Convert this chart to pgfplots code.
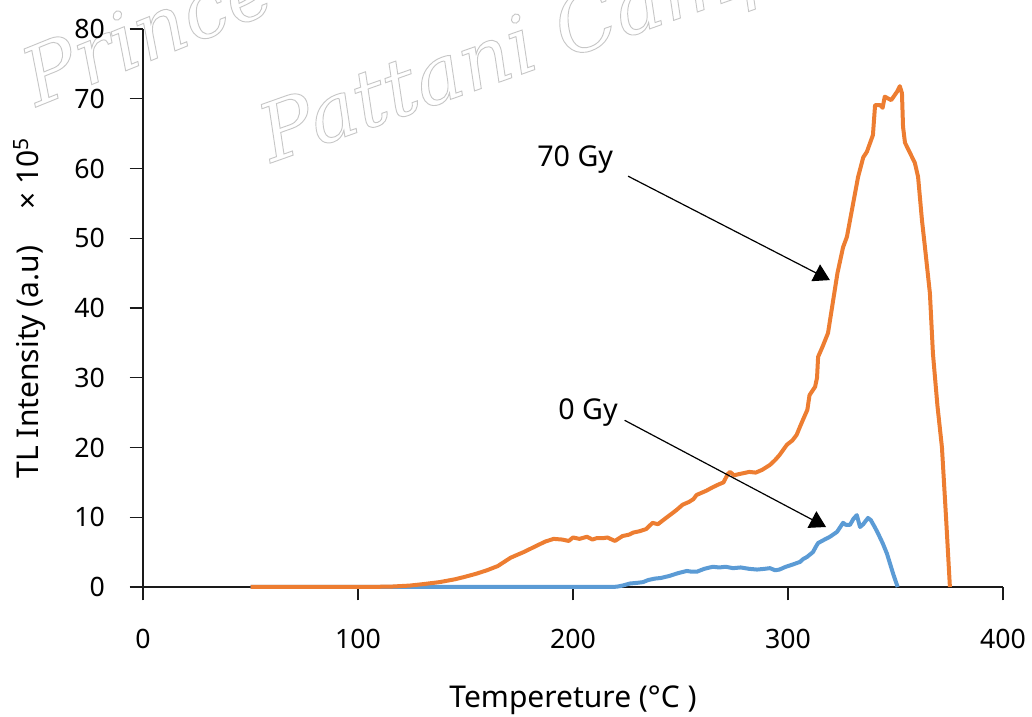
\documentclass[border=0pt]{standalone}
\usepackage{pgfplots}
\pgfplotsset{compat=1.18}
\usepackage{fontspec}
\setsansfont{Noto Sans}
\renewcommand{\familydefault}{\sfdefault}
\newfontfamily\wmfont{DejaVu Serif}
\usetikzlibrary{arrows.meta}

\definecolor{gyA}{HTML}{5B9BD5}
\definecolor{gyB}{HTML}{ED7D31}
\definecolor{axisgray}{HTML}{1A1A1A}

% outlined (stroke-only) text for the watermark
\newcommand{\outlinetext}[1]{\special{pdf:literal direct 1 Tr 0.7 w}#1\special{pdf:literal direct 0 Tr}}

\pgfplotstableread{
T I
50 0
80 0
100 0
150 0
200 0
218 0
220.5 0.05
223 0.2
226.5 0.5
230 0.6
232.6 0.7
235 1.0
238 1.2
241 1.3
245 1.6
249 2.0
253 2.3
255 2.2
257.7 2.2
261 2.6
265 2.9
268 2.8
271 2.9
274.4 2.7
278 2.8
282 2.6
285.6 2.5
289 2.6
291.6 2.7
294 2.4
296 2.5
299 2.9
302 3.2
305.6 3.6
307 4.0
308.8 4.3
311.6 5.0
313 5.8
314 6.3
317 6.8
319.5 7.2
322.8 7.9
325.6 9.2
327 8.9
328.8 8.9
330.5 9.8
332 10.3
333.5 8.6
335 9.0
337.2 9.9
338.5 9.6
340.5 8.5
342 7.6
344 6.3
346 4.8
347.4 3.4
349 1.8
351 0
}\zeroGy

\pgfplotstableread{
T I
50 0
80 0
100 0
115 0.05
124 0.2
130 0.4
138 0.7
145 1.1
149 1.4
155 1.9
160 2.4
165 3.0
168 3.6
171 4.2
177 5.0
183 5.9
187 6.5
191 6.9
195 6.8
198 6.6
200 7.1
203 6.9
206.5 7.2
209 6.8
211 7.0
214 7.0
216 7.1
219.5 6.6
223 7.3
226 7.5
228 7.8
231 8.0
234 8.3
237 9.2
239.5 9.0
242 9.6
245 10.3
248 11.0
251 11.8
254 12.2
256 12.6
257.5 13.2
262 13.8
265 14.3
267 14.6
270 15.0
272 16.2
273 16.5
275 16.0
276 16.1
279 16.3
282 16.5
285 16.4
288 16.8
291.6 17.5
294 18.2
296 18.9
299.5 20.4
302 21.0
304 21.8
305.6 23.0
307 24.0
309 25.4
310 27.5
312.6 28.7
313.5 30.0
314 33
316 34.4
318.6 36.4
321 41.1
323 45
325.6 48.7
327.4 50.2
330 54.5
332.6 58.8
335 61.6
336.7 62.4
339.5 64.8
340.5 69.1
342.8 69.1
344 68.7
345 70.3
348 69.8
350.7 71.0
352 71.8
353 70.8
353.5 66
354.4 63.7
356 62.7
359 60.8
360.5 58.8
362.3 52.6
363.7 48.7
366 42.1
367.4 33.5
369.5 26
371.6 20
373.5 10
375.3 0
}\seventyGy

\begin{document}
\begin{tikzpicture}
% faint repository watermark behind the plot
\begin{scope}[every node/.style={anchor=base west, inner sep=0pt,
    font=\wmfont\itshape\fontsize{60}{60}\selectfont, text=black!22}]
  \node[rotate=22] at (-80pt,360pt) {\outlinetext{Prince of Songkla University}};
  \node[rotate=19.5] at (96pt,318pt) {\outlinetext{Pattani Campus}};
\end{scope}

\begin{axis}[
  at={(0,0)}, anchor=south west,
  scale only axis,
  width=645pt, height=418.5pt,
  xmin=0, xmax=400, ymin=0, ymax=80,
  xtick={0,100,...,400},
  ytick={0,10,...,80},
  axis lines*=left,
  axis line style={axisgray, line width=1.1pt},
  tick style={axisgray, line width=1.1pt},
  tick align=outside,
  major tick length=10pt,
  /pgf/number format/assume math mode=true,
  tick label style={font=\fontsize{20}{24}\selectfont, text=black},
  xticklabel style={yshift=-18pt},
  yticklabel style={xshift=-15pt},
  xlabel={Tempereture (°C )},
  ylabel={TL Intensity (a.u)\hspace{1.2em}× 10\textsuperscript{5}},
  label style={font=\fontsize{22.5}{26}\selectfont},
  xlabel style={at={(axis description cs:0.5,-0.2025)}, anchor=center},
  ylabel style={at={(axis description cs:-0.1314,0.5)}, anchor=center, rotate=0},
  clip=false,
]
\addplot[color=gyA, line width=3pt, line join=round] table[x=T, y=I] {\zeroGy};
\addplot[color=gyB, line width=3pt, line join=round] table[x=T, y=I] {\seventyGy};

\node[font=\fontsize{21.5}{25}\selectfont] at (axis cs:201,61.3) {70 Gy};
\draw[line width=0.9pt, -{Triangle[length=12pt,width=14pt]}] (axis cs:225.6,58.9) -- (axis cs:319.5,44);
\node[font=\fontsize{21.5}{25}\selectfont] at (axis cs:207,25) {0 Gy};
\draw[line width=0.9pt, -{Triangle[length=12pt,width=14pt]}] (axis cs:224,23.9) -- (axis cs:317.7,8.6);

\coordinate (ll) at (rel axis cs:0,0);
\coordinate (ur) at (rel axis cs:1,1);
\end{axis}
\pgfresetboundingbox
\path ([xshift=-107.25pt,yshift=-97.5pt]ll) rectangle ([xshift=21.75pt,yshift=21.75pt]ur);
\end{tikzpicture}
\end{document}
